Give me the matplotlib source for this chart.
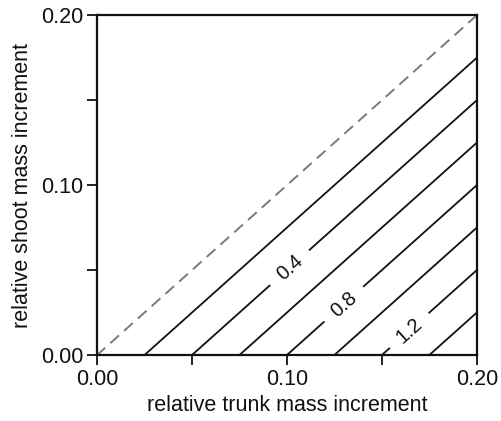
import matplotlib
matplotlib.use("Agg")
import matplotlib.pyplot as plt
import numpy as np

plt.rcParams['font.family'] = ['Liberation Sans', 'DejaVu Sans']

# contour levels (solid lines) and which ones carry a label
levels = [0.2, 0.4, 0.6, 0.8, 1.0, 1.2, 1.4]
labelled = [0.4, 0.8, 1.2]
label_pos = [(0.100, 0.053), (0.129, 0.031), (0.163, 0.016)]
slope = 8.0   # level per unit of (trunk - shoot) increment

xticks = [0.00, 0.10, 0.20]
yticks = [0.00, 0.10, 0.20]

fig = plt.figure(figsize=(5.01, 4.21), dpi=100)
ax = fig.add_axes([0.194, 0.157, 0.758, 0.807])

x = np.linspace(0, 0.2, 401)
X, Y = np.meshgrid(x, x)
Z = slope * (X - Y)

# zero line, dashed grey
ax.contour(X, Y, Z, levels=[0.0], colors='#7a7a7a', linewidths=1.4,
           linestyles=[(0, (6, 3.5))])
plain = [v for v in levels if v not in labelled]
ax.contour(X, Y, Z, levels=plain, colors='#111111', linewidths=1.3,
           linestyles='solid')
cs = ax.contour(X, Y, Z, levels=labelled, colors='#111111', linewidths=1.3,
                linestyles='solid')
ax.clabel(cs, manual=label_pos, fmt='%.1f', fontsize=14.5,
          inline=True, inline_spacing=12)

ax.set_xlim(0, 0.2)
ax.set_ylim(0, 0.2)
ax.set_xticks(xticks)
ax.set_yticks(yticks)
ax.set_xticks([0.05, 0.15], minor=True)
ax.set_yticks([0.05, 0.15], minor=True)
ax.set_xticklabels(['%.2f' % v for v in xticks])
ax.set_yticklabels(['%.2f' % v for v in yticks])
ax.tick_params(which='both', direction='out', length=7, width=1.3,
               labelsize=15.5, pad=3, colors='#111111')
for s in ax.spines.values():
    s.set_linewidth(1.6)
    s.set_color('#111111')

ax.set_xlabel('relative trunk mass increment', fontsize=15.5, labelpad=4,
              color='#111111')
ax.set_ylabel('relative shoot mass increment', fontsize=15.5, labelpad=6,
              color='#111111')

fig.savefig('out.png', dpi=100)
